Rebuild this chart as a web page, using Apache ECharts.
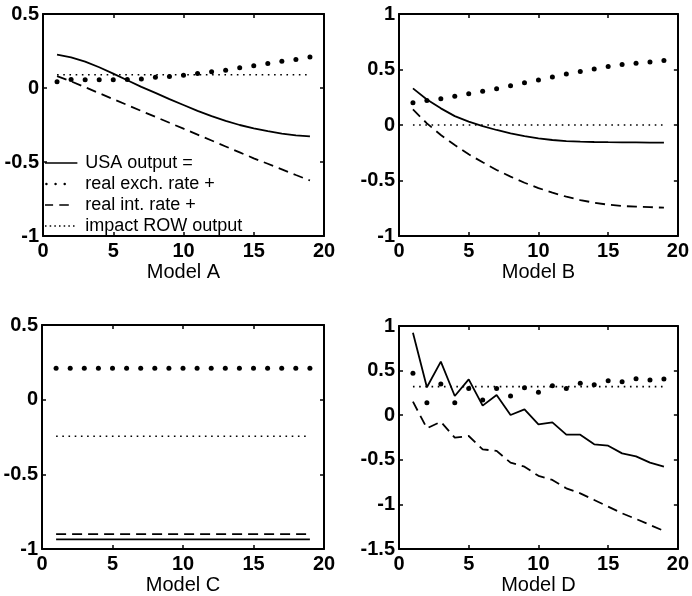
<!DOCTYPE html>
<html><head><meta charset="utf-8">
<script src="https://cdn.jsdelivr.net/npm/echarts@6/dist/echarts.min.js"></script>
<style>html,body{margin:0;padding:0;background:#fff}#c{width:692px;height:596px}</style>
</head><body><div id="c"></div>
<script>
// ---- data ----
const steps = [1,2,3,4,5,6,7,8,9,10,11,12,13,14,15,16,17,18,19];
const xTicks = [0,5,10,15,20];
const panelNames = ['Model A','Model B','Model C','Model D'];
const seriesNames = ['USA output =','real exch. rate +','real int. rate +','impact ROW output'];
const yTicksA = [-1,-0.5,0,0.5];
const yTicksB = [-1,-0.5,0,0.5,1];
const yTicksC = [-1,-0.5,0,0.5];
const yTicksD = [-1.5,-1,-0.5,0,0.5,1];

const usaA  = [0.225,0.207,0.178,0.14,0.097,0.052,0.008,-0.033,-0.075,-0.115,-0.155,-0.19,-0.222,-0.25,-0.272,-0.292,-0.308,-0.32,-0.327];
const exchA = [0.043,0.057,0.055,0.055,0.055,0.058,0.061,0.073,0.077,0.086,0.098,0.109,0.12,0.136,0.15,0.166,0.18,0.193,0.209];
const intA  = [0.08,0.045,0.005,-0.035,-0.075,-0.115,-0.155,-0.195,-0.235,-0.275,-0.315,-0.355,-0.395,-0.435,-0.475,-0.512,-0.55,-0.588,-0.625];
const rowA  = [0.09,0.09,0.09,0.09,0.09,0.09,0.09,0.09,0.09,0.09,0.09,0.09,0.09,0.09,0.09,0.09,0.09,0.09,0.09];

const usaB  = [0.33,0.23,0.15,0.08,0.03,-0.01,-0.045,-0.075,-0.1,-0.12,-0.135,-0.145,-0.15,-0.153,-0.155,-0.156,-0.157,-0.158,-0.158];
const exchB = [0.2,0.22,0.237,0.258,0.282,0.303,0.327,0.354,0.381,0.405,0.432,0.459,0.483,0.505,0.526,0.544,0.556,0.568,0.58];
const intB  = [0.14,0.015,-0.09,-0.18,-0.264,-0.336,-0.405,-0.465,-0.52,-0.568,-0.61,-0.646,-0.676,-0.7,-0.718,-0.73,-0.736,-0.74,-0.745];
const rowB  = [0,0,0,0,0,0,0,0,0,0,0,0,0,0,0,0,0,0,0];

const usaC  = [-0.935,-0.935,-0.935,-0.935,-0.935,-0.935,-0.935,-0.935,-0.935,-0.935,-0.935,-0.935,-0.935,-0.935,-0.935,-0.935,-0.935,-0.935,-0.935];
const exchC = [0.21,0.21,0.21,0.21,0.21,0.21,0.21,0.21,0.21,0.21,0.21,0.21,0.21,0.21,0.21,0.21,0.21,0.21,0.21];
const intC  = [-0.9,-0.9,-0.9,-0.9,-0.9,-0.9,-0.9,-0.9,-0.9,-0.9,-0.9,-0.9,-0.9,-0.9,-0.9,-0.9,-0.9,-0.9,-0.9];
const rowC  = [-0.245,-0.245,-0.245,-0.245,-0.245,-0.245,-0.245,-0.245,-0.245,-0.245,-0.245,-0.245,-0.245,-0.245,-0.245,-0.245,-0.245,-0.245,-0.245];

const usaD  = [0.925,0.313,0.6,0.215,0.402,0.107,0.226,0.002,0.066,-0.102,-0.08,-0.218,-0.218,-0.326,-0.342,-0.428,-0.461,-0.532,-0.577];
const exchD = [0.47,0.14,0.35,0.14,0.3,0.17,0.3,0.215,0.308,0.256,0.33,0.3,0.357,0.342,0.387,0.376,0.41,0.395,0.405];
const intD  = [0.152,-0.147,-0.073,-0.252,-0.233,-0.383,-0.4,-0.532,-0.577,-0.68,-0.726,-0.82,-0.876,-0.95,-1.025,-1.1,-1.163,-1.23,-1.298];
const rowD  = [0.32,0.32,0.32,0.32,0.32,0.32,0.32,0.32,0.32,0.32,0.32,0.32,0.32,0.32,0.32,0.32,0.32,0.32,0.32];

const panels = [
  {yTicks: yTicksA, usa: usaA, exch: exchA, int: intA, row: rowA},
  {yTicks: yTicksB, usa: usaB, exch: exchB, int: intB, row: rowB},
  {yTicks: yTicksC, usa: usaC, exch: exchC, int: intC, row: rowC},
  {yTicks: yTicksD, usa: usaD, exch: exchD, int: intD, row: rowD}
];

// ---- layout / style ----
const FONT = 'Liberation Sans, Arial, sans-serif';
const grids = [
  {left: 43, top: 14, width: 281, height: 222},
  {left: 399, top: 14, width: 281, height: 222},
  {left: 42, top: 325, width: 282, height: 224},
  {left: 399, top: 326, width: 281, height: 223}
];
const axisLine = {show: true, onZero: false, lineStyle: {color: '#000', width: 2}};
const axisTick = {show: true, inside: true, length: 4, lineStyle: {color: '#000', width: 1.5}};
const pairs = v => steps.map((s, i) => [s, v[i]]);

const xAxis = [], yAxis = [], series = [];
panels.forEach((p, i) => {
  const xMin = xTicks[0], xMax = xTicks[xTicks.length - 1];
  const yMin = p.yTicks[0], yMax = p.yTicks[p.yTicks.length - 1];
  xAxis.push({
    gridIndex: i, type: 'value', position: 'bottom', min: xMin, max: xMax, interval: xTicks[1] - xTicks[0],
    axisLine, axisTick, splitLine: {show: false},
    axisLabel: {color: '#000', fontSize: 20, fontWeight: 'bold', fontFamily: FONT, margin: 5},
    name: panelNames[i], nameLocation: 'middle', nameGap: 26,
    nameTextStyle: {color: '#000', fontSize: 20, fontFamily: FONT}
  });
  xAxis.push({
    gridIndex: i, type: 'value', position: 'top', min: xMin, max: xMax, interval: xTicks[1] - xTicks[0],
    axisLine, axisTick, splitLine: {show: false}, axisLabel: {show: false}
  });
  yAxis.push({
    gridIndex: i, type: 'value', position: 'left', min: yMin, max: yMax, interval: 0.5,
    axisLine, axisTick, splitLine: {show: false},
    axisLabel: {color: '#000', fontSize: 20, fontWeight: 'bold', fontFamily: FONT, margin: 4}
  });
  yAxis.push({
    gridIndex: i, type: 'value', position: 'right', min: yMin, max: yMax, interval: 0.5,
    axisLine, axisTick, splitLine: {show: false}, axisLabel: {show: false}
  });
  const xi = 2 * i, yi = 2 * i;
  series.push({
    name: seriesNames[0], type: 'line', xAxisIndex: xi, yAxisIndex: yi, data: pairs(p.usa),
    showSymbol: false, lineStyle: {color: '#000', width: 1.8}, itemStyle: {color: '#000'}
  });
  series.push({
    name: seriesNames[1], type: 'scatter', xAxisIndex: xi, yAxisIndex: yi, data: pairs(p.exch),
    symbol: 'circle', symbolSize: 5, itemStyle: {color: '#000', opacity: 1}
  });
  series.push({
    name: seriesNames[2], type: 'line', xAxisIndex: xi, yAxisIndex: yi, data: pairs(p.int),
    showSymbol: false, lineStyle: {color: '#000', width: 1.8, type: [10, 6]}, itemStyle: {color: '#000'}
  });
  series.push({
    name: seriesNames[3], type: 'line', xAxisIndex: xi, yAxisIndex: yi, data: pairs(p.row),
    showSymbol: false, lineStyle: {color: '#000', width: 1.6, type: [1.6, 4.6]}, itemStyle: {color: '#000'}
  });
});

const icons = [
  'path://M0,0 L34,0 L34,1.8 L0,1.8 Z M0,-1.2 M34,3',
  'path://M0.2,0.9 a1.3,1.3 0 1,0 2.6,0 a1.3,1.3 0 1,0 -2.6,0 Z M9.8,0.9 a1.3,1.3 0 1,0 2.6,0 a1.3,1.3 0 1,0 -2.6,0 Z M19.4,0.9 a1.3,1.3 0 1,0 2.6,0 a1.3,1.3 0 1,0 -2.6,0 Z M0,-1.2 M34,3',
  'path://M0,0 L8.5,0 L8.5,1.8 L0,1.8 Z M15,0 L25,0 L25,1.8 L15,1.8 Z M0,-1.2 M34,3',
  'path://M0,0 h1.6 v1.6 h-1.6 Z M4.9,0 h1.6 v1.6 h-1.6 Z M9.8,0 h1.6 v1.6 h-1.6 Z M14.7,0 h1.6 v1.6 h-1.6 Z M19.6,0 h1.6 v1.6 h-1.6 Z M24.5,0 h1.6 v1.6 h-1.6 Z M29.4,0 h1.6 v1.6 h-1.6 Z M0,-1.2 M34,3'
];

const chart = echarts.init(document.getElementById('c'), null, {renderer: 'canvas'});
chart.setOption({
  animation: false,
  backgroundColor: '#fff',
  grid: grids,
  xAxis, yAxis, series,
  legend: {
    left: 45, top: 154, orient: 'vertical', padding: 0,
    itemWidth: 34, itemHeight: 4, itemGap: 3, selectedMode: false,
    textStyle: {color: '#000', fontSize: 18, fontFamily: FONT, padding: [0, 0, 0, 2]},
    data: seriesNames.map((n, k) => ({name: n, icon: icons[k]}))
  }
});
</script></body></html>
